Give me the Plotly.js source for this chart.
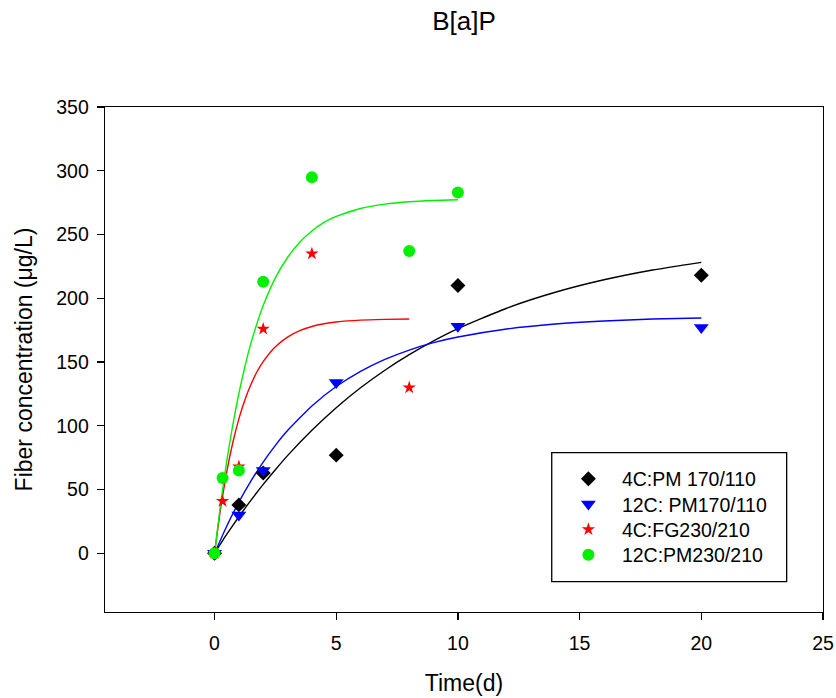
<!DOCTYPE html>
<html>
<head>
<meta charset="utf-8">
<script src="https://cdn.plot.ly/plotly-3.0.1.min.js"></script>
<style>html,body{margin:0;padding:0;background:#fff;}#chart{width:836px;height:698px;}</style>
</head>
<body>
<div id="chart"></div>
<script>
// Series names
const seriesNames = ["4C:PM 170/110", "12C: PM170/110", "4C:FG230/210", "12C:PM230/210"];

// Measured points
const pm170_4C_x = [0, 1, 2, 5, 10, 20];
const pm170_4C_y = [0, 38, 63, 77, 210, 218];

const pm170_12C_x = [0, 1, 2, 5, 10, 20];
const pm170_12C_y = [0, 30, 65, 134, 178, 177];

const fg230_4C_x = [0, 0.33, 1, 2, 4, 8];
const fg230_4C_y = [0, 41, 68, 176, 235, 130];

const pm230_12C_x = [0, 0.33, 1, 2, 4, 8, 10];
const pm230_12C_y = [0, 59, 65, 213, 295, 237, 283];

// Fitted curves
const fitBlack_x = [0, 0.5, 1, 1.5, 2, 2.5, 3, 4, 5, 6, 7, 8, 9, 10, 12, 14, 16, 18, 20];
const fitBlack_y = [0, 14.8, 28.7, 41.7, 54.1, 65.6, 76.6, 96.5, 114.2, 129.8, 143.6, 155.8, 166.6, 176.2, 192.2, 204.7, 214.5, 222.2, 228.2];

const fitBlue_x = [0, 0.5, 1, 1.5, 2, 2.5, 3, 4, 5, 6, 7, 8, 9, 10, 12, 14, 16, 18, 20];
const fitBlue_y = [0, 21.3, 40.1, 56.8, 71.6, 84.7, 96.3, 115.6, 130.8, 142.7, 152.1, 159.4, 165.2, 169.6, 175.9, 179.8, 182.2, 183.7, 184.6];

const fitRed_x = [0, 0.25, 0.5, 0.75, 1, 1.25, 1.5, 1.75, 2, 2.5, 3, 3.5, 4, 4.5, 5, 6, 7, 8];
const fitRed_y = [0, 35.2, 63.7, 86.7, 105.4, 120.5, 132.6, 142.6, 150.4, 162, 169.6, 174.6, 177.9, 180, 181.4, 182.9, 183.5, 183.8];

const fitGreen_x = [0, 0.25, 0.5, 0.75, 1, 1.25, 1.5, 1.75, 2, 2.5, 3, 3.5, 4, 4.5, 5, 6, 7, 8, 9, 10];
const fitGreen_y = [0, 38.7, 72.1, 100.7, 125.4, 146.6, 165, 180.6, 194.3, 216, 232, 244, 252.8, 259.5, 264.2, 270.4, 273.8, 275.7, 276.7, 277.3];

// Axis ticks
const xTicks = [0, 5, 10, 15, 20, 25];
const yTicks = [0, 50, 100, 150, 200, 250, 300, 350];

const FONT = "Liberation Sans, Arial, sans-serif";
const colors = ["#000000", "#0000ff", "#ff0000", "#00f000"];
const legendIds = ["legend", "legend2", "legend3", "legend4"];

function fit(x, y, c) {
  return {x: x, y: y, type: "scatter", mode: "lines", line: {color: c, width: 1.4, shape: "spline", smoothing: 0.5},
          showlegend: false, hoverinfo: "skip"};
}
function pts(x, y, i, sym, size) {
  return {x: x, y: y, type: "scatter", mode: "markers", name: seriesNames[i], legend: legendIds[i],
          marker: {symbol: sym, size: size, color: colors[i], line: {width: 0}}};
}

const data = [
  fit(fitBlack_x, fitBlack_y, colors[0]),
  fit(fitBlue_x, fitBlue_y, colors[1]),
  fit(fitRed_x, fitRed_y, colors[2]),
  fit(fitGreen_x, fitGreen_y, colors[3]),
  pts(pm170_4C_x, pm170_4C_y, 0, "diamond", 11.5),
  pts(pm170_12C_x, pm170_12C_y, 1, "triangle-down", 13),
  pts(fg230_4C_x, fg230_4C_y, 2, "star", 10),
  pts(pm230_12C_x, pm230_12C_y, 3, "circle", 12)
];

const axisCommon = {
  showgrid: false, zeroline: false, showline: true, mirror: true,
  linecolor: "#000", linewidth: 1.3,
  ticks: "outside", ticklen: 7, tickwidth: 1.3, tickcolor: "#000",
  tickfont: {family: FONT, size: 19.5, color: "#000"}
};

function legendAt(y) {
  return {
    x: 0.6266, xanchor: "left", y: y, yanchor: "top",
    bgcolor: "rgba(0,0,0,0)", borderwidth: 0, itemwidth: 57,
    font: {family: FONT, size: 19.5, color: "#000"}
  };
}

const layout = {
  width: 836, height: 698,
  margin: {l: 105, r: 13, t: 107, b: 86, pad: 0},
  paper_bgcolor: "#fff", plot_bgcolor: "#fff",
  font: {family: FONT, color: "#000"},
  title: {text: "B[a]P", font: {family: FONT, size: 26, color: "#000"},
          x: 0.5, xref: "paper", xanchor: "center", y: 0.97, yref: "container", yanchor: "middle"},
  xaxis: Object.assign({}, axisCommon, {
    range: [-4.5, 25], tickvals: xTicks, ticktext: xTicks.map(String), ticklabelstandoff: 6,
    title: {text: "Time(d)", font: {family: FONT, size: 23, color: "#000"}, standoff: 22}
  }),
  yaxis: Object.assign({}, axisCommon, {
    range: [-46, 350], tickvals: yTicks, ticktext: yTicks.map(String), ticklabelstandoff: 4,
    title: {text: "Fiber concentration (\u03bcg/L)", font: {family: FONT, size: 23, color: "#000"}, standoff: 17}
  }),
  showlegend: true,
  legend: legendAt(0.3018),
  legend2: legendAt(0.2517),
  legend3: legendAt(0.2016),
  legend4: legendAt(0.1515),
  shapes: [{
    type: "rect", xref: "paper", yref: "paper",
    x0: 0.6222, x1: 0.9494, y0: 0.06, y1: 0.3154,
    line: {color: "#000", width: 1.3}, fillcolor: "rgba(0,0,0,0)", layer: "above"
  }]
};

Plotly.newPlot("chart", data, layout, {displayModeBar: false, staticPlot: true});
</script>
</body>
</html>
